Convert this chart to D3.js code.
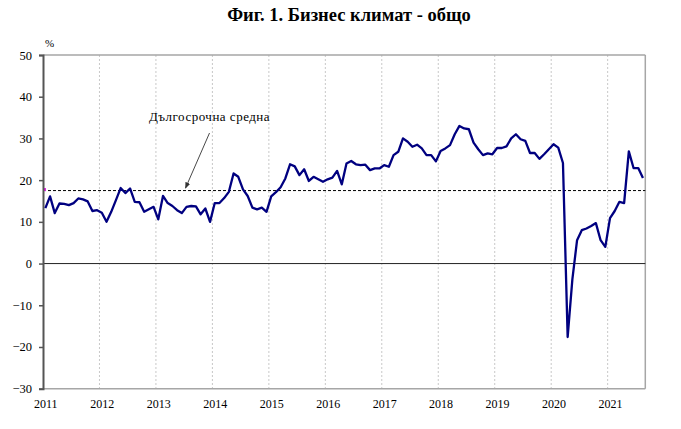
<!DOCTYPE html>
<html>
<head>
<meta charset="utf-8">
<script src="https://cdn.jsdelivr.net/npm/d3@7/dist/d3.min.js"></script>
<style>
  html, body { margin: 0; padding: 0; background: #fff; }
  svg { display: block; font-family: "Liberation Serif", "Times New Roman", serif; }
</style>
</head>
<body>
<svg id="chart" width="681" height="429"></svg>
<script>
// ---- data ----
const title = "Фиг. 1. Бизнес климат - общо";
const yUnit = "%";
const annotationText = "Дългосрочна средна";
const yearLabels = ["2011","2012","2013","2014","2015","2016","2017","2018","2019","2020","2021"];
const yTicks = [-30, -20, -10, 0, 10, 20, 30, 40, 50];
const longTermAverage = 17.5;
// monthly values, Jan 2011 .. Aug 2021
const values = [
  13.3, 16.1, 12.1, 14.4, 14.3, 14.0, 14.5, 15.6, 15.4, 14.9, 12.6, 12.8, // 2011
  12.2, 10.0, 12.4, 15.2, 18.1, 16.9, 18.0, 14.8, 14.7, 12.4, 13.0, 13.6, // 2012
  10.6, 16.2, 14.5, 13.8, 12.8, 12.1, 13.6, 13.8, 13.7, 11.8, 13.2, 10.0, // 2013
  14.5, 14.5, 15.7, 17.2, 21.6, 20.8, 17.8, 16.2, 13.4, 13.0, 13.4, 12.4, // 2014
  16.1, 17.1, 18.3, 20.4, 23.8, 23.3, 21.2, 22.6, 19.8, 20.8, 20.2, 19.6, // 2015
  20.2, 20.6, 22.2, 19.0, 24.0, 24.6, 23.8, 23.6, 23.7, 22.4, 22.8, 22.8, // 2016
  23.6, 23.2, 26.0, 26.8, 30.0, 29.2, 28.0, 28.5, 27.6, 26.0, 26.0, 24.5, // 2017
  27.0, 27.6, 28.4, 31.0, 33.0, 32.4, 32.2, 29.0, 27.4, 26.0, 26.4, 26.2, // 2018
  27.7, 27.7, 28.1, 30.0, 31.0, 29.8, 29.4, 26.5, 26.5, 25.1, 26.2, 27.4, // 2019
  28.6, 27.8, 24.1, -17.6, -3.8, 5.6, 8.0, 8.4, 9.0, 9.7, 5.6, 4.0,       // 2020
  10.9, 12.6, 14.8, 14.5, 26.9, 22.9, 22.9, 20.5                          // 2021
];

// ---- layout ----
const svg = d3.select("#chart");
const plotLeft = 43, plotRight = 645.3, plotTop = 55, plotBottom = 388.7;
const nCats = 128;

const x = d3.scaleLinear().domain([0, nCats]).range([plotLeft, plotRight]);
const y = d3.scaleLinear().domain([-30, 50]).range([plotBottom, plotTop]);

// title
svg.append("text")
  .attr("x", 349).attr("y", 21)
  .attr("text-anchor", "middle")
  .attr("font-size", 18.5).attr("font-weight", "bold")
  .attr("fill", "#000")
  .text(title);

// % label
svg.append("text")
  .attr("x", 45).attr("y", 47)
  .attr("font-size", 11).attr("fill", "#000")
  .text(yUnit);

// vertical year gridlines
svg.append("g")
  .selectAll("line")
  .data(yearLabels.slice(1))
  .join("line")
  .attr("x1", (d, i) => x((i + 1) * 12))
  .attr("x2", (d, i) => x((i + 1) * 12))
  .attr("y1", plotTop).attr("y2", plotBottom)
  .attr("stroke", "#c8c8c8")
  .attr("stroke-width", 1)
  .attr("stroke-dasharray", "2,2");

// top & right border, bottom line
svg.append("line").attr("x1", plotLeft).attr("x2", plotRight).attr("y1", plotTop).attr("y2", plotTop)
  .attr("stroke", "#a6a6a6").attr("stroke-width", 1.5);
svg.append("line").attr("x1", plotRight).attr("x2", plotRight).attr("y1", plotTop).attr("y2", plotBottom)
  .attr("stroke", "#a6a6a6").attr("stroke-width", 1.5);
svg.append("line").attr("x1", plotLeft).attr("x2", plotRight).attr("y1", plotBottom).attr("y2", plotBottom)
  .attr("stroke", "#a6a6a6").attr("stroke-width", 1.5);

// zero line
svg.append("line").attr("x1", plotLeft).attr("x2", plotRight).attr("y1", y(0)).attr("y2", y(0))
  .attr("stroke", "#222").attr("stroke-width", 1);

// long-term average dashed line
svg.append("line")
  .attr("x1", plotLeft).attr("x2", plotRight)
  .attr("y1", y(longTermAverage)).attr("y2", y(longTermAverage))
  .attr("stroke", "#000").attr("stroke-width", 1)
  .attr("stroke-dasharray", "3,2");
svg.append("rect")
  .attr("x", plotLeft).attr("y", y(longTermAverage) - 2.5)
  .attr("width", 3).attr("height", 3)
  .attr("fill", "#e020e0");

// y axis
const yAxis = d3.axisLeft(y).tickValues(yTicks).tickSize(4).tickPadding(7).tickFormat(d3.format("d"));
const gy = svg.append("g").attr("transform", `translate(${plotLeft},0)`).call(yAxis);
gy.select(".domain").attr("stroke", "#555").attr("stroke-width", 2);
gy.selectAll(".tick line").attr("stroke", "#555").attr("stroke-width", 1.5);
gy.selectAll(".tick text")
  .attr("font-family", "Liberation Serif, Times New Roman, serif")
  .attr("font-size", 12.5).attr("fill", "#000");

// x labels (at January of each year)
svg.append("g")
  .selectAll("text")
  .data(yearLabels)
  .join("text")
  .attr("x", (d, i) => x(i * 12 + 0.5) + 0.5)
  .attr("y", 408)
  .attr("text-anchor", "middle")
  .attr("font-size", 12).attr("fill", "#000")
  .text(d => d);

// series line
const line = d3.line()
  .x((d, i) => x(i + 0.5))
  .y(d => y(d));
svg.append("path")
  .datum(values)
  .attr("d", line)
  .attr("fill", "none")
  .attr("stroke", "#000080")
  .attr("stroke-width", 2.3)
  .attr("stroke-linejoin", "round");

// annotation
svg.append("text")
  .attr("x", 149).attr("y", 121)
  .attr("font-size", 13).attr("fill", "#000")
  .attr("letter-spacing", 0.5)
  .text(annotationText);

svg.append("defs").append("marker")
  .attr("id", "arrow")
  .attr("viewBox", "0 0 10 10")
  .attr("refX", 9).attr("refY", 5)
  .attr("markerWidth", 7).attr("markerHeight", 7)
  .attr("orient", "auto")
  .append("path")
  .attr("d", "M0,1 L10,5 L0,9 Z")
  .attr("fill", "#333");

svg.append("line")
  .attr("x1", 209.5).attr("y1", 133)
  .attr("x2", 185.5).attr("y2", y(longTermAverage) - 2.5)
  .attr("stroke", "#333").attr("stroke-width", 0.9)
  .attr("marker-end", "url(#arrow)");
</script>
</body>
</html>
